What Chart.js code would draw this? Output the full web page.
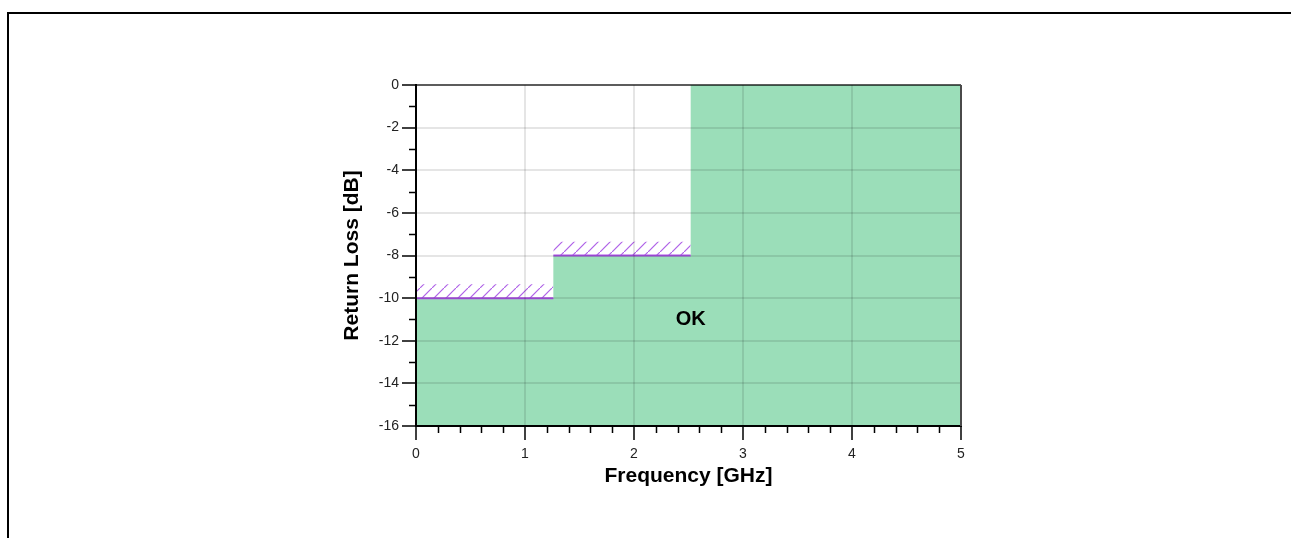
<!DOCTYPE html>
<html>
<head>
<meta charset="utf-8">
<script src="https://cdn.jsdelivr.net/npm/chart.js@4.4.1/dist/chart.umd.min.js"></script>
<style>
  html, body { margin: 0; padding: 0; background: #fff; overflow: hidden; }
  #wrap { position: relative; width: 1291px; height: 538px; }
  #frame {
    position: absolute; left: 7px; top: 12px; width: 1400px; height: 600px;
    border-top: 2px solid #000; border-left: 2px solid #000; pointer-events: none;
  }
</style>
</head>
<body>
<div id="wrap">
  <canvas id="chart" width="1291" height="538"></canvas>
  <div id="frame"></div>
</div>
<script>
// return loss mask: step edges (GHz) and limit levels (dB)
const stepX   = [0, 1.26, 2.52, 5];
const stepY   = [-10, -8, 0, 0];
const hatchTop = [-9.35, -7.35];   // top of the hatched band above each limit
const okLabel = { x: 2.52, y: -11, text: "OK" };

const xTicks = { min: 0, max: 5, step: 1, minor: 0.2 };
const yTicks = { min: -16, max: 0, step: 2, minor: 1 };

const fontFam  = "'Liberation Sans', Arial, sans-serif";
const okGreen  = "#9bdeb9";
const purple   = "#aa50e6";
const gridCol  = "rgba(0,0,0,0.1)";

function hatchPattern() {
  const c = document.createElement("canvas");
  c.width = 12; c.height = 12;
  const g = c.getContext("2d");
  g.strokeStyle = "rgba(165,80,228,0.9)";
  g.lineWidth = 1.2;
  g.beginPath();
  g.moveTo(-1, 13); g.lineTo(13, -1);
  g.stroke();
  return g.createPattern(c, "repeat");
}
const hatch = hatchPattern();

// green OK region, stepped
const okData = stepX.map((x, i) => ({ x, y: stepY[i] }));

// purple limit lines (gap between segments)
const limitData = [];
const hatchSets = [];
for (let i = 0; i < hatchTop.length; i++) {
  if (i > 0) limitData.push({ x: stepX[i], y: null });
  limitData.push({ x: stepX[i], y: stepY[i] }, { x: stepX[i + 1], y: stepY[i] });
  hatchSets.push({
    data: [{ x: stepX[i], y: hatchTop[i] }, { x: stepX[i + 1], y: hatchTop[i] }],
    fill: { value: stepY[i] },
    backgroundColor: hatch,
    borderWidth: 0,
    pointRadius: 0,
    order: 2
  });
}

const extras = {
  id: "extras",
  afterDraw(chart) {
    const { ctx, chartArea: a, scales: { x, y } } = chart;
    ctx.save();
    // minor ticks
    ctx.strokeStyle = "#000";
    ctx.lineWidth = 1.5;
    ctx.beginPath();
    for (let v = yTicks.min; v <= yTicks.max; v += yTicks.minor) {
      if (v % yTicks.step === 0) continue;
      const py = Math.round(y.getPixelForValue(v)) + 0.5;
      ctx.moveTo(a.left - 7, py); ctx.lineTo(a.left, py);
    }
    for (let k = 1; k < (xTicks.max - xTicks.min) / xTicks.minor; k++) {
      if (k % 5 === 0) continue;
      const px = Math.round(x.getPixelForValue(xTicks.min + k * xTicks.minor)) + 0.5;
      ctx.moveTo(px, a.bottom); ctx.lineTo(px, a.bottom + 7);
    }
    ctx.stroke();
    // top and right edges of the plot box
    ctx.lineWidth = 2;
    ctx.strokeStyle = "rgba(0,0,0,0.6)";
    ctx.beginPath();
    ctx.moveTo(a.left, a.top); ctx.lineTo(a.right, a.top);
    ctx.stroke();
    ctx.strokeStyle = "#4a4a4a";
    ctx.beginPath();
    ctx.moveTo(a.right, a.top); ctx.lineTo(a.right, a.bottom);
    ctx.stroke();
    // OK label
    ctx.fillStyle = "#000";
    ctx.font = "bold 20px " + fontFam;
    ctx.textAlign = "center";
    ctx.textBaseline = "middle";
    ctx.fillText(okLabel.text, x.getPixelForValue(okLabel.x), y.getPixelForValue(okLabel.y));
    ctx.restore();
  }
};

const axisCommon = {
  type: "linear",
  grid: { z: 1, color: gridCol, lineWidth: 2, tickColor: "#000", tickWidth: 1.5, tickLength: 14 },
  border: { z: 2, color: "#000", width: 2 },
  ticks: { color: "#222", font: { size: 14, family: fontFam } }
};

new Chart(document.getElementById("chart"), {
  type: "line",
  data: {
    datasets: [
      {
        data: limitData,
        borderColor: purple,
        borderWidth: 2,
        pointRadius: 0,
        fill: false,
        spanGaps: false,
        order: 0
      },
      ...hatchSets,
      {
        data: okData,
        stepped: "before",
        fill: "start",
        backgroundColor: okGreen,
        borderWidth: 0,
        pointRadius: 0,
        order: 3
      }
    ]
  },
  options: {
    responsive: false,
    animation: false,
    layout: { padding: { left: 330, right: 330, top: 85, bottom: 40 } },
    plugins: { legend: { display: false }, tooltip: { enabled: false } },
    scales: {
      x: {
        ...axisCommon,
        position: "bottom",
        min: xTicks.min, max: xTicks.max,
        ticks: { ...axisCommon.ticks, stepSize: xTicks.step, padding: 6, maxRotation: 0 },
        title: {
          display: true, text: "Frequency [GHz]", color: "#000",
          font: { size: 21, weight: "bold", family: fontFam },
          padding: { top: 9, bottom: 9 }
        },
        afterFit(s) { s.height = 72; }
      },
      y: {
        ...axisCommon,
        position: "left",
        min: yTicks.min, max: yTicks.max,
        ticks: { ...axisCommon.ticks, stepSize: yTicks.step, padding: 3 },
        title: {
          display: true, text: "Return Loss [dB]", color: "#000",
          font: { size: 21, weight: "bold", family: fontFam },
          padding: { top: 10, bottom: 10 }
        },
        afterFit(s) { s.width = 86; }
      }
    }
  },
  plugins: [extras]
});
</script>
</body>
</html>
